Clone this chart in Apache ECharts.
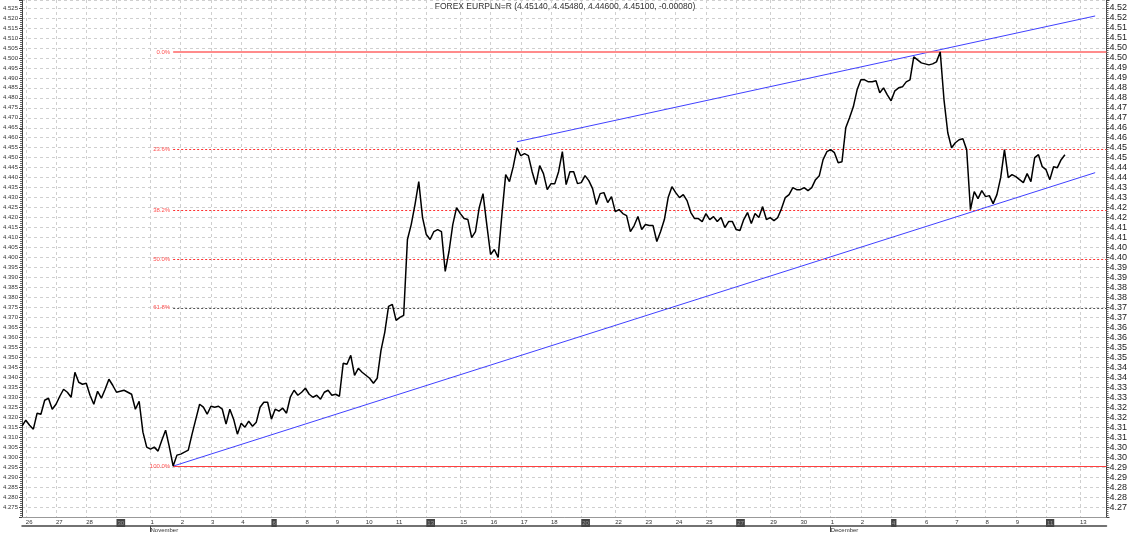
<!DOCTYPE html>
<html><head><meta charset="utf-8">
<script src="https://cdn.jsdelivr.net/npm/echarts@6/dist/echarts.min.js"></script>
<style>html,body{margin:0;padding:0;background:#fff}#c{width:1130px;height:533px}</style>
</head><body><div id="c"></div>
<script>
// ---- data ----
const titleText = 'FOREX EURPLN=R (4.45140, 4.45480, 4.44600, 4.45100, -0.00080)';
const firstDay = [2011, 9, 25];   // 25 Oct 2011 (partial session)
const lastDay = [2011, 11, 13];   // 13 Dec 2011
const slotsPerWeekday = 8;         // 3-hour steps
const slotsPerSunday = 1;
const slotsFirstDay = 1;
const monthNames = ['January','February','March','April','May','June','July','August','September','October','November','December'];

// close price per 3-hour slot
const prices = [
  4.3155, 4.3185, 4.316, 4.314, 4.322, 4.3215, 4.3285, 4.3295, 4.324, 4.3265,
  4.3305, 4.334, 4.3325, 4.330, 4.3425, 4.3375, 4.3365, 4.337, 4.331, 4.3265,
  4.333, 4.3295, 4.334, 4.339, 4.336, 4.3325, 4.333, 4.3335, 4.3325, 4.3315,
  4.324, 4.328, 4.3125, 4.305, 4.304, 4.305, 4.303, 4.3085, 4.3135, 4.305,
  4.2955, 4.301, 4.3015, 4.3025, 4.3035, 4.3115, 4.319, 4.3265, 4.325, 4.3215,
  4.3255, 4.325, 4.3255, 4.324, 4.3165, 4.324, 4.319, 4.3115, 4.317, 4.315,
  4.318, 4.3155, 4.3175, 4.325, 4.3275, 4.3275, 4.319, 4.324, 4.323, 4.3245,
  4.322, 4.330, 4.3335, 4.331, 4.3325, 4.3345, 4.3315, 4.330, 4.331, 4.329,
  4.3325, 4.3335, 4.331, 4.3315, 4.3305, 4.347, 4.3465, 4.351, 4.341, 4.3445,
  4.3425, 4.341, 4.3395, 4.337, 4.3395, 4.3535, 4.3625, 4.3755, 4.3765, 4.3685,
  4.370, 4.371, 4.409, 4.4165, 4.4265, 4.438, 4.420, 4.4115, 4.409, 4.413,
  4.414, 4.413, 4.393, 4.403, 4.4165, 4.425, 4.422, 4.4195, 4.419, 4.410,
  4.413, 4.425, 4.432, 4.4165, 4.4015, 4.404, 4.400, 4.4215, 4.4415, 4.438,
  4.4455, 4.455, 4.451, 4.452, 4.451, 4.443, 4.4365, 4.446, 4.442, 4.434,
  4.437, 4.437, 4.443, 4.453, 4.4365, 4.443, 4.443, 4.437, 4.4375, 4.441,
  4.4385, 4.4345, 4.4265, 4.432, 4.4325, 4.4275, 4.4305, 4.423, 4.424, 4.422,
  4.421, 4.413, 4.416, 4.4205, 4.414, 4.4165, 4.416, 4.416, 4.408, 4.413,
  4.419, 4.430, 4.4355, 4.4325, 4.430, 4.4315, 4.4285, 4.4225, 4.4195, 4.4195,
  4.418, 4.422, 4.419, 4.4205, 4.418, 4.420, 4.415, 4.418, 4.418, 4.414,
  4.4135, 4.419, 4.4225, 4.417, 4.422, 4.420, 4.4255, 4.419, 4.420, 4.4185,
  4.420, 4.4245, 4.430, 4.4315, 4.435, 4.434, 4.434, 4.435, 4.4335, 4.435,
  4.439, 4.441, 4.449, 4.453, 4.454, 4.4525, 4.4475, 4.448, 4.465, 4.470,
  4.4755, 4.484, 4.489, 4.489, 4.488, 4.488, 4.4885, 4.4825, 4.485, 4.4815,
  4.4785, 4.4835, 4.485, 4.4855, 4.488, 4.489, 4.5005, 4.499, 4.4975, 4.497,
  4.4965, 4.497, 4.498, 4.503, 4.479, 4.4625, 4.455, 4.4575, 4.459, 4.4595,
  4.454, 4.424, 4.433, 4.4295, 4.4335, 4.4305, 4.431, 4.427, 4.4315, 4.440,
  4.454, 4.440, 4.4415, 4.4405, 4.439, 4.4375, 4.442, 4.438, 4.450, 4.4515,
  4.4455, 4.444, 4.439, 4.4455, 4.445, 4.449, 4.4515
];

const fibLevels = [4.503, 4.454, 4.4237, 4.3993, 4.3748, 4.2955];
const fibLabels = ['0.0%', '23.6%', '38.2%', '50.0%', '61.8%', '100.0%'];
const fibStartSlot = 40;
const upperTrend = [[131, 4.458], [284, 4.521]];
const lowerTrend = [[40, 4.2955], [284, 4.4425]];

const yMin = 4.270, yMax = 4.529, yStep = 0.005;

// ---- build slot categories ----
const slots = [];
{
  let t = Date.UTC(firstDay[0], firstDay[1], firstDay[2]);
  const end = Date.UTC(lastDay[0], lastDay[1], lastDay[2]);
  let isFirst = true;
  while (t <= end) {
    const d = new Date(t);
    const dow = d.getUTCDay();
    if (dow !== 6) {
      const n = isFirst ? slotsFirstDay : (dow === 0 ? slotsPerSunday : slotsPerWeekday);
      for (let k = 0; k < n; k++) {
        slots.push({ day: d.getUTCDate(), month: d.getUTCMonth(), dow, first: k === 0, partial: isFirst, key: (d.getUTCMonth() + 1) + '/' + d.getUTCDate() + '#' + k });
      }
      isFirst = false;
    }
    t += 86400000;
  }
}
const categories = slots.map(s => s.key);
const showDay = i => { const s = slots[i]; return s && s.first && !s.partial && s.dow !== 1; };
const showMonth = i => { const s = slots[i]; return s && s.first && s.day === 1; };

const fibStyles = [
  { color: '#ff6464', width: 1.5, type: 'solid' },
  { color: '#ff3030', width: 1, type: [2, 2] },
  { color: '#ff3030', width: 1, type: [2, 2] },
  { color: '#ff3030', width: 1, type: [2, 2] },
  { color: '#555555', width: 1, type: [2, 2] },
  { color: '#ff4040', width: 1.2, type: 'solid' }
];

const chart = echarts.init(document.getElementById('c'), null, { renderer: 'canvas' });
const font = 'Liberation Sans, Arial, sans-serif';
chart.setOption({
  animation: false,
  backgroundColor: '#ffffff',
  title: {
    text: titleText, left: 'center', top: -3,
    textStyle: { fontSize: 8.5, fontWeight: 'normal', color: '#333', fontFamily: font }
  },
  grid: { left: 22, right: 23, top: 0, bottom: 15 },
  xAxis: [
    {
      type: 'category', data: categories, boundaryGap: false,
      axisLine: { show: true, lineStyle: { color: '#999', width: 1 } },
      axisTick: { show: false },
      axisLabel: {
        interval: (i) => showDay(i), align: 'left', margin: 2, fontSize: 6, color: '#333', fontFamily: font,
        formatter: (v, i) => { const s = slots[i]; return s.dow === 0 ? '{s|' + s.day + '}' : String(s.day); },
        rich: { s: { backgroundColor: '#444', color: '#999', fontSize: 6, padding: [1, 1, 1, 1], fontFamily: font } }
      },
      splitLine: { show: true, interval: (i) => showDay(i), lineStyle: { color: '#cfcfcf', type: [3, 3], width: 1 } }
    },
    {
      type: 'category', data: categories, boundaryGap: false, position: 'bottom', offset: 9,
      axisLine: { show: true, lineStyle: { color: '#444', width: 1.5 } },
      axisTick: { show: true, interval: (i) => showMonth(i), length: 6, lineStyle: { color: '#444' } },
      axisLabel: {
        interval: (i) => showMonth(i), align: 'left', margin: 1, fontSize: 6, color: '#333', fontFamily: font,
        formatter: (v, i) => monthNames[slots[i].month]
      },
      splitLine: { show: false }
    }
  ],
  yAxis: [
    {
      type: 'value', min: yMin, max: yMax, interval: yStep, position: 'left',
      axisLine: { show: true, lineStyle: { color: '#444' } },
      axisTick: { show: true, length: 3, lineStyle: { color: '#444' } },
      minorTick: { show: true, splitNumber: 5, length: 2, lineStyle: { color: '#666' } },
      axisLabel: { showMinLabel: false, showMaxLabel: false, margin: 4, fontSize: 6, color: '#333', fontFamily: font, formatter: v => v.toFixed(3) },
      splitLine: { show: true, lineStyle: { color: '#cfcfcf', type: [3, 3], width: 1 } }
    },
    {
      type: 'value', min: yMin, max: yMax, interval: yStep, position: 'right',
      axisLine: { show: true, lineStyle: { color: '#444' } },
      axisTick: { show: true, length: 3, lineStyle: { color: '#444' } },
      minorTick: { show: true, splitNumber: 5, length: 2, lineStyle: { color: '#666' } },
      axisLabel: { showMinLabel: false, showMaxLabel: false, margin: 3, fontSize: 9, color: '#222', fontFamily: font,
        formatter: v => (Math.floor(v * 100 + 1e-6) / 100).toFixed(2) },
      splitLine: { show: false }
    }
  ],
  series: [
    {
      type: 'line', data: prices, symbol: 'none', silent: true,
      lineStyle: { color: '#000', width: 1.5 }, z: 5,
      markLine: {
        silent: true, symbol: 'none', animation: false,
        data: fibLevels.map((lv, i) => [
          { coord: [categories[fibStartSlot], lv], lineStyle: fibStyles[i],
            label: { show: true, position: 'start', distance: 3, formatter: fibLabels[i], color: '#ff5050', fontSize: 6, fontFamily: font } },
          { coord: [categories[categories.length - 1], lv] }
        ])
      }
    },
    {
      type: 'line', symbol: 'none', silent: true, z: 4,
      data: upperTrend.map(p => [categories[p[0]], p[1]]),
      lineStyle: { color: '#4040ff', width: 1 }
    },
    {
      type: 'line', symbol: 'none', silent: true, z: 4,
      data: lowerTrend.map(p => [categories[p[0]], p[1]]),
      lineStyle: { color: '#4040ff', width: 1 }
    }
  ]
});
</script>
</body></html>
